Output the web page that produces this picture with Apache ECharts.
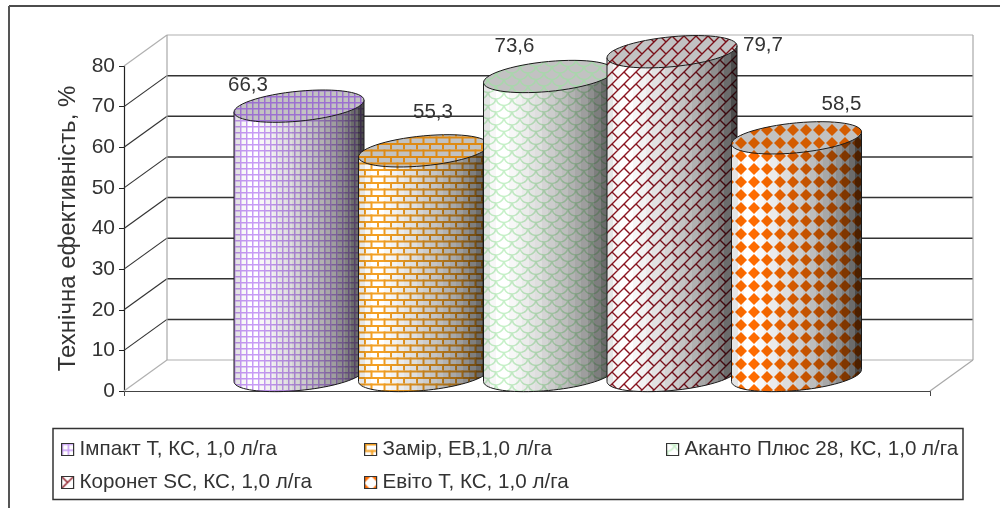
<!DOCTYPE html>
<html><head><meta charset="utf-8">
<style>html,body{margin:0;padding:0;background:#fff}#c{width:1000px;height:508px}</style>
<script src="https://cdn.jsdelivr.net/npm/echarts@6/dist/echarts.min.js"></script>
</head><body><div id="c"></div>
<script>
const categories = ['Ефективність'];
const seriesNames = ['Імпакт Т, КС, 1,0 л/га','Замір, ЕВ,1,0 л/га','Аканто Плюс 28, КС, 1,0 л/га','Коронет SC, КС, 1,0 л/га','Евіто Т, КС, 1,0 л/га'];
const seriesValues = [66.3, 55.3, 73.6, 79.7, 58.5];
const yTicks = [0,10,20,30,40,50,60,70,80];
const yTitle = 'Технічна ефективність, %';

// layout constants
const DX = 43, DY = 31, RX = 65, TILT = 6, RY = 15;
const slotOffsets = [-249.5, -125, 0, 123.5, 248];
const labelOffsets = [[-51,-21],[9.5,-39],[-34,-30],[91,-6],[45,-34]];
const legendSlots = [[61,439],[364,439],[666,439],[61,472],[364,472]];

function tile(w,h,bg,draw){
  const c=document.createElement('canvas');c.width=w;c.height=h;
  const g=c.getContext('2d');
  if(bg){g.fillStyle=bg;g.fillRect(0,0,w,h);}
  draw(g);return c;
}
const painters = [
  (bg,col)=>tile(6,6,bg,g=>{g.fillStyle=col;g.fillRect(0,0,6,1.5);g.fillRect(0,0,1.5,6);}),
  (bg,col)=>tile(26,13,bg,g=>{g.fillStyle=col;g.fillRect(0,0,26,2);g.fillRect(0,6.5,26,2);
    [0,13].forEach(x=>g.fillRect(x,0,2,6.5));[6.5,19.5].forEach(x=>g.fillRect(x,6.5,2,6.5));}),
  (bg,col)=>tile(16,13,bg,g=>{g.strokeStyle=col;g.lineWidth=1.6;
    [[0,0],[16,0],[8,6.5],[0,13],[16,13],[8,-6.5]].forEach(p=>{g.beginPath();g.arc(p[0],p[1],8,0.2,Math.PI-0.2);g.stroke();});}),
  (bg,col)=>tile(24,24,bg,g=>{g.strokeStyle=col;g.lineWidth=1.4;g.beginPath();
    for(let k=-2;k<7;k++){const s=k*12;
      g.moveTo(s+30,-30);g.lineTo(s-30,30);
      const odd=((k%2)+2)%2;
      for(let m=-3;m<4;m++){const d=m*24+(odd?12:0);
        g.moveTo((s+d)/2,(s-d)/2);g.lineTo((s+12+d)/2,(s+12-d)/2);}}
    g.stroke();}),
  (bg,col)=>tile(13,13,bg,g=>{g.fillStyle=col;const d=(x,y)=>{g.beginPath();g.moveTo(x-6,y);g.lineTo(x,y-6);g.lineTo(x+6,y);g.lineTo(x,y+6);g.closePath();g.fill();};
     d(0,0);d(13,0);d(0,13);d(13,13);})
];
const bodyCols = ['#c79bf5','#f3a024','#c6f0c8','#8a1420','#ff6c00'];
const capCols  = ['#9c70d0','#de8a14','#a9d6ac','#7a1018','#d45c00'];
const bodyPat = painters.map((p,i)=>({image:p('#ffffff',bodyCols[i]),repeat:'repeat'}));
const capPat  = painters.map((p,i)=>({image:p('#c2c2c2',capCols[i]),repeat:'repeat'}));

const shadeAlphas = [0.1,0.03,0,0,0.03,0.05,0.08,0.11,0.13,0.17,0.2,0.23,0.26,0.3,0.34,0.38,0.44,0.5,0.58,0.7];
const shade = {type:'linear',x:0,y:0,x2:1,y2:0,colorStops:[]};
shadeAlphas.forEach((a,i)=>{const n=shadeAlphas.length;
  shade.colorStops.push({offset:i/n,color:'rgba(0,0,0,'+a+')'},{offset:(i+1)/n,color:'rgba(0,0,0,'+a+')'});});

function ellipsePts(cx,cy,from,to,n){
  const a=[];for(let k=0;k<=n;k++){const t=from+(to-from)*k/n;
    a.push([cx+RX*Math.cos(t), cy-TILT*Math.cos(t)+RY*Math.sin(t)]);}
  return a;
}
function cylinder(idx){
  return function(params,api){
    const base=api.coord([0,0]), top=api.coord([0,api.value(1)]);
    const cx=base[0]+slotOffsets[idx]+DX/2;
    const by=base[1]-DY/2, ty=top[1]-DY/2;
    const lower=ellipsePts(cx,by,0,Math.PI,40);
    const upper=[[cx-RX,ty+TILT],[cx+RX,ty-TILT]];
    const pts=upper.concat(lower);
    const body={type:'polygon',shape:{points:pts},style:{fill:bodyPat[idx],stroke:null}};
    const sh={type:'polygon',shape:{points:pts},style:{fill:shade,stroke:'#1a1a1a',lineWidth:1}};
    const cap={type:'polygon',shape:{points:ellipsePts(cx,ty,0,Math.PI*2,60)},style:{fill:capPat[idx],stroke:'#1a1a1a',lineWidth:1}};
    const o=labelOffsets[idx];
    const txt={type:'text',style:{text:String(api.value(1)).replace('.',','),x:cx+o[0],y:ty+o[1],
      fill:'#333',font:'20.5px "Liberation Sans"',align:'center',verticalAlign:'middle'}};
    return {type:'group',children:[body,sh,cap,txt]};
  };
}
function wall(params,api){
  const mid=api.coord([0,0]), w=api.size([1,0])[0];
  const lx=mid[0]-w/2, rx=mid[0]+w/2, by=mid[1];
  const kids=[];
  const L=(x1,y1,x2,y2,c,lw)=>kids.push({type:'line',shape:{x1,y1,x2,y2},style:{stroke:c,lineWidth:lw||1.2}});
  const last=yTicks[yTicks.length-1];
  yTicks.forEach(t=>{
    const y=api.coord([0,t])[1], edge=(t===0||t===last);
    const c=edge?'#b0b0b0':'#333';
    L(lx,y,lx+DX,y-DY,c);
    L(lx+DX,y-DY,rx+DX,y-DY,c,edge?1.2:1.5);
  });
  const yTop=api.coord([0,last])[1];
  L(lx+DX,yTop-DY,lx+DX,by-DY,'#a8a8a8');
  L(rx+DX,yTop-DY,rx+DX,by-DY,'#a8a8a8');
  L(rx,by,rx+DX,by-DY,'#a8a8a8');
  return {type:'group',children:kids};
}

const series=[{type:'custom',name:'wall',silent:true,data:[[0,0]],renderItem:wall,clip:false,z:1}];
seriesNames.forEach((n,i)=>series.push({
  type:'custom',name:n,data:[[0,seriesValues[i]]],renderItem:cylinder(i),clip:false,z:2,
  encode:{x:0,y:1},itemStyle:{color:bodyPat[i]}
}));

const chart=echarts.init(document.getElementById('c'),null,{renderer:'canvas'});
chart.setOption({
  animation:false,backgroundColor:'#fff',
  grid:{left:124,right:70,top:66,bottom:117},
  xAxis:{type:'category',data:categories,
    axisLine:{lineStyle:{color:'#444',width:1}},
    axisTick:{show:true,length:5,lineStyle:{color:'#444'}},
    axisLabel:{show:false},splitLine:{show:false}},
  yAxis:{type:'value',min:0,max:80,interval:10,
    name:yTitle,nameLocation:'middle',nameGap:44,nameRotate:90,
    nameTextStyle:{fontFamily:'Liberation Sans',fontSize:24,color:'#333'},
    axisLine:{show:true,lineStyle:{color:'#222',width:1.2}},
    axisTick:{show:true,length:5,lineStyle:{color:'#222'}},
    axisLabel:{fontFamily:'Liberation Sans',fontSize:21,color:'#333',margin:9,padding:[3,0,0,0]},
    splitLine:{show:false}},
  legend:seriesNames.map((n,i)=>({
    data:[n],left:legendSlots[i][0],top:legendSlots[i][1],padding:0,
    itemWidth:12,itemHeight:12,selectedMode:false,icon:'rect',
    itemStyle:{borderColor:'#333',borderWidth:1.2},
    textStyle:{fontFamily:'Liberation Sans',fontSize:20.6,color:'#333',padding:[0,0,0,1]}
  })),
  graphic:[
    {type:'rect',shape:{x:53,y:428.5,width:910,height:71},style:{fill:'none',stroke:'#333',lineWidth:1.5},silent:true,z:0},
    {type:'line',shape:{x1:9,y1:6,x2:1000,y2:6},style:{stroke:'#111',lineWidth:1.5},silent:true},
    {type:'line',shape:{x1:9,y1:6,x2:9,y2:508},style:{stroke:'#555',lineWidth:2},silent:true}
  ],
  series
});
</script></body></html>
